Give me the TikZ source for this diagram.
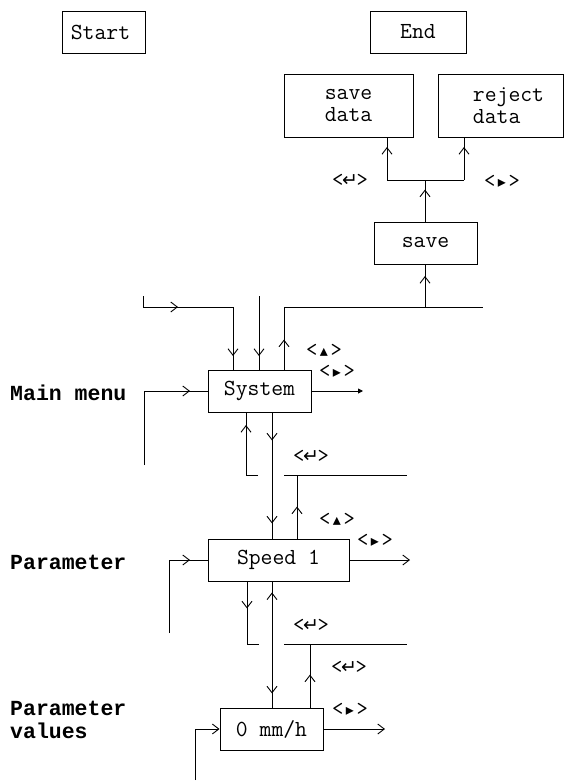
\documentclass[tikz,border=0pt]{standalone}
\usepackage{fontspec}
\setmainfont{Liberation Mono}
\newfontfamily\symf{DejaVu Sans}
\usetikzlibrary{arrows.meta,decorations.markings}
\newcommand\kent{<\makebox[0.6em]{\symf\fontsize{19}{19}\selectfont ↵}>}
\newcommand\kup{<\makebox[0.6em]{\symf\fontsize{16}{16}\selectfont ▴}>}
\newcommand\kright{<\makebox[0.6em]{\symf\fontsize{16}{16}\selectfont ▸}>}
\tikzset{
  box/.style={draw, line width=0.9pt, inner sep=0pt, minimum height=42pt,
    font=\ttfamily\fontsize{23}{22}\selectfont},
  conn/.style={line width=0.9pt},
  barb/.tip={Straight Barb[length=6.5pt,width=10pt,line width=0.9pt]},
  marr/.style={postaction={decorate,decoration={markings,
    mark=at position #1 with {\arrow{barb}}}}},
  rarr/.style={postaction={decorate,decoration={markings,
    mark=at position #1 with {\arrowreversed{barb}}}}},
  lbl/.style={font=\ttfamily\fontsize{22}{22}\selectfont, inner sep=0pt},
  side/.style={font=\bfseries\fontsize{21.5}{23}\selectfont, inner sep=0pt,
    anchor=west, align=left},
}
\begin{document}
\begin{tikzpicture}[x=1pt,y=-1pt]
\useasboundingbox (0,0) rectangle (564,781);
% boxes
\node[box, minimum width=83pt] (start) at (103.5,32) {Start\hspace*{6pt}};
\node[box, minimum width=96pt] (end) at (418,32) {End};
\node[box, minimum width=129pt, minimum height=63pt, align=center] (savedata) at (348.5,105.5) {save\\data};
\node[box, minimum width=125pt, minimum height=63pt, align=left] (rejectdata) at (500.5,105.5) {\hspace*{16pt}reject\\\hspace*{16pt}data};
\node[box, minimum width=103pt] (save) at (425.5,243) {save};
\node[box, minimum width=103pt] (system) at (259.5,391) {System};
\node[box, minimum width=141pt] (speed) at (278.5,560) {Speed 1};
\node[box, minimum width=103pt] (mmh) at (271.5,729) {0 mm/h};
% side labels
\node[side] (lmain) at (10,393) {Main menu};
\node[side] (lpar) at (10,562) {Parameter};
\node[side] (lval) at (10,720) {Parameter\\values};
% key labels
\node[lbl] (k1) at (350,180) {\kent};
\node[lbl] (k2) at (502,181) {\kright};
\node[lbl] (k3) at (324,350) {\kup};
\node[lbl] (k4) at (337,371) {\kright};
\node[lbl] (k5) at (311,456) {\kent};
\node[lbl] (k6) at (337,519) {\kup};
\node[lbl] (k7) at (375,540) {\kright};
\node[lbl] (k8) at (311,625) {\kent};
\node[lbl] (k9) at (349,667) {\kent};
\node[lbl] (k10) at (350,709) {\kright};
% save -> save data / reject data
\coordinate (jM) at (425,180); \coordinate (jL) at (387,180); \coordinate (jR) at (464,180);
\draw[conn] (jL) -- (jR);
\draw[conn, marr=32pt] (save.north -| jM) -- (jM);
\draw[conn, marr=33pt] (jL) -- (jL |- savedata.south);
\draw[conn, marr=33pt] (jR) -- (jR |- rejectdata.south);
% top line to save
\coordinate (tA) at (284,307); \coordinate (tB) at (483,307); \coordinate (tJ) at (425,307);
\draw[conn, marr=31pt] (tJ) -- (tJ |- save.south);
\draw[conn, marr=30pt] (tA |- system.north) -- (tA) -- (tB);
% inputs from top into System
\coordinate (iA) at (143,296); \coordinate (iB) at (143,307); \coordinate (iC) at (233,307);
\draw[conn, marr=46pt, marr=150pt] (iA) -- (iB) -- (iC) -- (iC |- system.north);
\coordinate (iD) at (259,296);
\draw[conn, marr=60pt] (iD) -- (iD |- system.north);
% main menu input
\coordinate (mA) at (144,465); \coordinate (mB) at (144,391);
\draw[conn, marr=120pt] (mA) -- (mB) -- (system.west);
% system output
\coordinate (sO) at (363,391);
\draw[conn, -{Triangle[length=5pt,width=5pt]}] (system.east) -- (sO);
% return from Speed to System
\coordinate (rA) at (246,475); \coordinate (rB) at (258,475); \coordinate (rC) at (284,475);
\coordinate (rD) at (407,475); \coordinate (rE) at (297,475);
\draw[conn, marr=62pt] (rB) -- (rA) -- (rA |- system.south);
\draw[conn] (rC) -- (rD);
\draw[conn, marr=32pt] (rE |- speed.north) -- (rE);
% System -> Speed
\coordinate (dA) at (272,0);
\draw[conn, marr=28pt, marr=111pt] (dA |- system.south) -- (dA |- speed.north);
% Speed input / output
\coordinate (pA) at (169,633); \coordinate (pB) at (169,560);
\draw[conn, marr=94pt] (pA) -- (pB) -- (speed.west);
\coordinate (pO) at (410,560);
\draw[conn, -barb] (speed.east) -- (pO);
% below Speed
\coordinate (bA) at (247,644); \coordinate (bB) at (259,644);
\draw[conn, marr=27pt] (bA |- speed.south) -- (bA) -- (bB);
\draw[conn, rarr=11pt, marr=112pt] (dA |- speed.south) -- (dA |- mmh.north);
% mm/h connectors
\coordinate (cA) at (284,644); \coordinate (cB) at (407,644); \coordinate (cJ) at (310,644);
\draw[conn] (cA) -- (cB);
\draw[conn, marr=33pt] (cJ |- mmh.north) -- (cJ);
\coordinate (eA) at (195,780); \coordinate (eB) at (195,729);
\draw[conn, -barb] (eA) -- (eB) -- (mmh.west);
\coordinate (eO) at (385,729);
\draw[conn, -barb] (mmh.east) -- (eO);
\end{tikzpicture}
\end{document}
